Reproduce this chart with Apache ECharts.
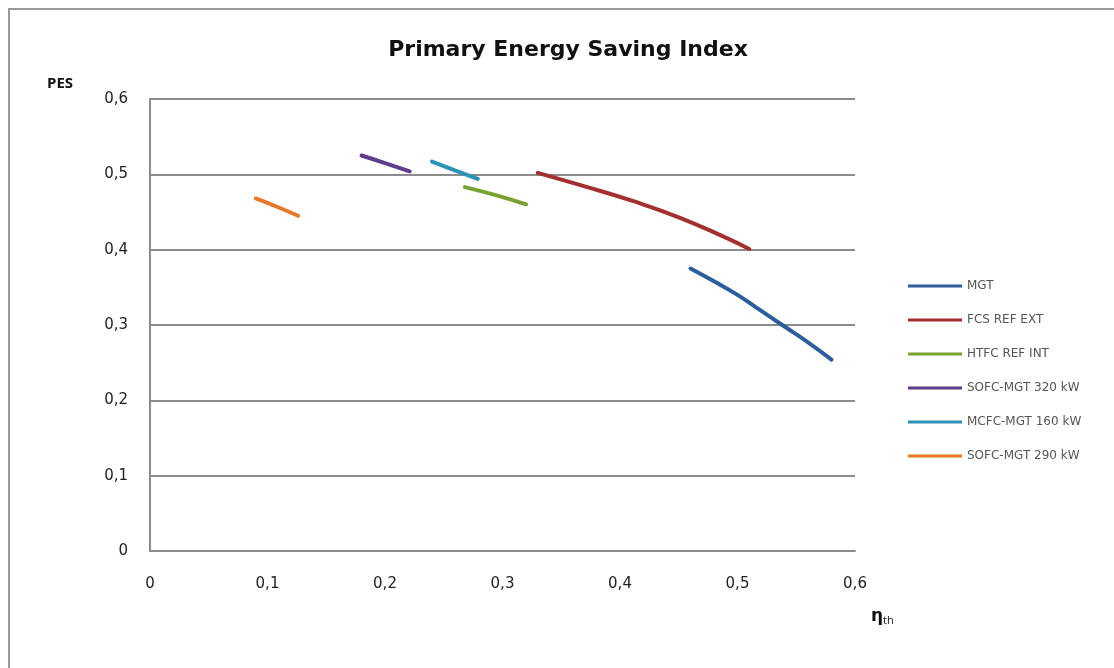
<!DOCTYPE html>
<html>
<head>
<meta charset="utf-8">
<script src="https://cdn.jsdelivr.net/npm/echarts@6/dist/echarts.min.js"></script>
<style>
html,body{margin:0;padding:0;background:#fff;}
#chart{width:1114px;height:668px;}
</style>
</head>
<body>
<div id="chart"></div>
<script>
var seriesNames = ['MGT', 'FCS REF EXT', 'HTFC REF INT', 'SOFC-MGT 320 kW', 'MCFC-MGT 160 kW', 'SOFC-MGT 290 kW'];
var xTicks = [0, 0.1, 0.2, 0.3, 0.4, 0.5, 0.6];
var yTicks = [0, 0.1, 0.2, 0.3, 0.4, 0.5, 0.6];
var mgt = [[0.46, 0.375], [0.48, 0.358], [0.50, 0.340], [0.52, 0.319], [0.54, 0.298], [0.56, 0.277], [0.58, 0.254]];
var fcsRefExt = [[0.33, 0.502], [0.37, 0.484], [0.41, 0.465], [0.45, 0.443], [0.49, 0.416], [0.51, 0.401]];
var htfcRefInt = [[0.268, 0.483], [0.295, 0.472], [0.32, 0.460]];
var sofc320 = [[0.18, 0.525], [0.20, 0.515], [0.221, 0.504]];
var mcfc160 = [[0.24, 0.517], [0.26, 0.505], [0.279, 0.494]];
var sofc290 = [[0.09, 0.468], [0.108, 0.457], [0.126, 0.445]];
var allData = [mgt, fcsRefExt, htfcRefInt, sofc320, mcfc160, sofc290];
var colors = ['#2c5d9c', '#a3302e', '#78a22f', '#5f3d8b', '#2a93b3', '#e8782a'];

var fmt = function (v) { return String(Math.round(v * 10) / 10).replace('.', ','); };

var chart = echarts.init(document.getElementById('chart'));
var option = {
  backgroundColor: '#fff',
  animation: false,
  title: {
    text: 'Primary Energy Saving Index',
    left: 563, top: 34, textAlign: 'center',
    textStyle: { fontFamily: 'DejaVu Sans', fontWeight: 'bold', fontSize: 22, color: '#111' }
  },
  legend: {
    orient: 'vertical',
    left: 903, top: 275,
    itemWidth: 54, itemHeight: 3, itemGap: 22,
    icon: 'rect',
    data: seriesNames,
    textStyle: { fontFamily: 'DejaVu Sans', fontSize: 12, color: '#555' }
  },
  grid: { left: 150, right: 259, top: 99, bottom: 117 },
  xAxis: {
    type: 'value', min: xTicks[0], max: xTicks[xTicks.length - 1], interval: 0.1,
    axisLine: { show: true, lineStyle: { color: '#8c8c8c', width: 2 } },
    axisTick: { show: false },
    splitLine: { show: false },
    axisLabel: { formatter: fmt, margin: 26, fontFamily: 'DejaVu Sans', fontSize: 15, color: '#222' }
  },
  yAxis: {
    type: 'value', min: yTicks[0], max: yTicks[yTicks.length - 1], interval: 0.1,
    axisLine: { show: true, lineStyle: { color: '#8c8c8c', width: 2 } },
    axisTick: { show: false },
    splitLine: { show: true, lineStyle: { color: '#8c8c8c', width: 2 } },
    axisLabel: { formatter: fmt, margin: 22, fontFamily: 'DejaVu Sans', fontSize: 15, color: '#222' }
  },
  graphic: [
    { type: 'polyline', silent: true, shape: { points: [[9, 668], [9, 9], [1114, 9]] },
      style: { stroke: '#9a9a9a', lineWidth: 2, fill: null } },
    { type: 'text', left: 47, top: 76, style: { text: 'PES', fontFamily: 'Open Sans', fontWeight: 'bold', fontSize: 15, fill: '#111' } },
    { type: 'text', left: 871, top: 608,
      style: { text: '{a|η}{b|th}', rich: {
        a: { fontFamily: 'DejaVu Sans', fontWeight: 'bold', fontSize: 17, fill: '#111' },
        b: { fontFamily: 'Open Sans', fontSize: 11, fill: '#111', padding: [8, 0, 0, 0] }
      } } }
  ],
  series: seriesNames.map(function (n, i) {
    return {
      name: n, type: 'line', data: allData[i], smooth: true, showSymbol: false,
      lineStyle: { width: 4, color: colors[i], cap: 'round' },
      itemStyle: { color: colors[i] }
    };
  })
};
chart.setOption(option);
</script>
</body>
</html>
